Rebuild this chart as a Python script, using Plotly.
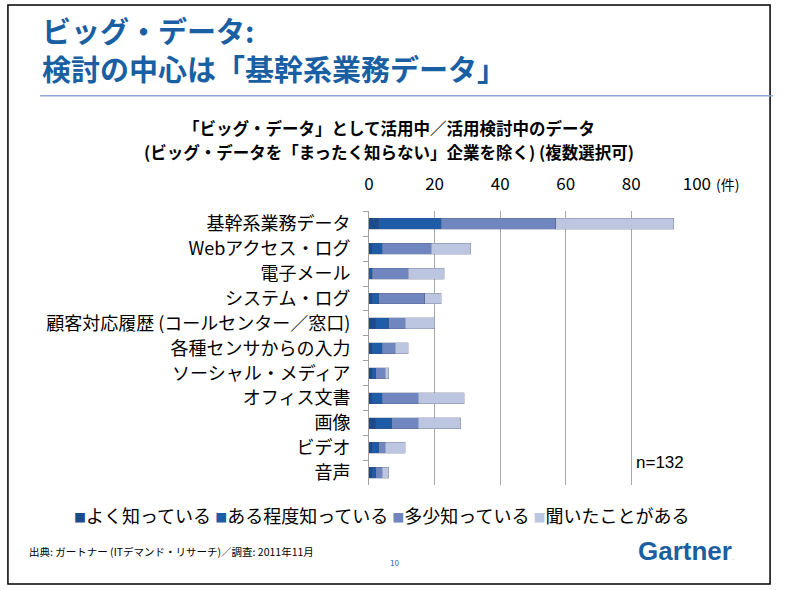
import plotly.graph_objects as go

# --- data (件) ---
categories = [
    "基幹系業務データ",
    "Webアクセス・ログ",
    "電子メール",
    "システム・ログ",
    "顧客対応履歴 (コールセンター／窓口)",
    "各種センサからの入力",
    "ソーシャル・メディア",
    "オフィス文書",
    "画像",
    "ビデオ",
    "音声",
]
series_names = ["よく知っている", "ある程度知っている", "多少知っている", "聞いたことがある"]
well_known = [3, 1, 0, 1, 2, 1, 1, 1, 2, 1, 1]
fairly_known = [19, 3, 1, 2, 4, 3, 1, 3, 5, 2, 1]
somewhat_known = [35, 15, 11, 14, 5, 4, 3, 11, 8, 2, 2]
heard_of = [36, 12, 11, 5, 9, 4, 1, 14, 13, 6, 2]
x_ticks = [0, 20, 40, 60, 80, 100]

colors = ["#1C4A8A", "#1F5CA8", "#6F86BE", "#BCC6E0"]
W, H = 787, 590
FONT = "Noto Sans CJK JP"
BLUE = "#1B5FA3"

fig = go.Figure()
for name, vals, col in zip(series_names,
                           [well_known, fairly_known, somewhat_known, heard_of],
                           colors):
    fig.add_trace(go.Bar(
        y=categories, x=vals, name=name, orientation="h",
        marker=dict(color=col, line=dict(color="rgba(70,80,110,0.45)", width=0.6)),
        width=0.44, showlegend=False,
    ))

def px_x(p):
    return p / W

def px_y(p):
    return 1 - p / H

fig.update_layout(
    width=W, height=H,
    barmode="stack",
    paper_bgcolor="white", plot_bgcolor="white",
    margin=dict(l=0, r=0, t=0, b=0),
    font=dict(family=FONT, color="black"),
    xaxis=dict(
        domain=[px_x(373), px_x(709)], range=[0, 100], side="top",
        tickvals=x_ticks, showgrid=True, gridcolor="#A8A8A8", gridwidth=1,
        zeroline=False, showline=False, ticks="",
        tickfont=dict(size=17, family=FONT), ticklabelstandoff=17,
        fixedrange=True,
    ),
    yaxis=dict(
        domain=[px_y(485), px_y(210)], range=[10.5, -0.5],
        showline=True, linecolor="#A0A0A0", linewidth=1,
        ticks="outside", tickson="boundaries", ticklen=5, tickcolor="#A0A0A0",
        tickfont=dict(size=18, family=FONT), ticklabelstandoff=14,
        showgrid=False, fixedrange=True,
    ),
)

# legend as one line of coloured squares, built from the series names
legend_text = " ".join(
    f"<span style='color:{c};font-size:12px'>■</span>{n}" for n, c in zip(series_names, colors)
)

ann = [
    dict(text="<b>ビッグ・データ:</b>", x=px_x(36), y=px_y(28), font=dict(size=29, color=BLUE)),
    dict(text="<b>検討の中心は「基幹系業務データ」</b>", x=px_x(36), y=px_y(66), font=dict(size=29, color=BLUE)),
    dict(text="<b>「ビッグ・データ」として活用中／活用検討中のデータ</b>",
         x=px_x(393), y=px_y(126), xanchor="center", font=dict(size=16.5)),
    dict(text="<b>(ビッグ・データを「まったく知らない」企業を除く) (複数選択可)</b>",
         x=px_x(393), y=px_y(151), xanchor="center", font=dict(size=16.5)),
    dict(text="(件)", x=px_x(727), y=px_y(183), font=dict(size=14)),
    dict(text="n=132", x=px_x(645), y=px_y(462), font=dict(size=17, family="Liberation Sans")),
    dict(text=legend_text, x=px_x(386), y=px_y(515), xanchor="center", font=dict(size=18)),
    dict(text="出典: ガートナー (ITデマンド・リサーチ)／調査: 2011年11月", x=px_x(23), y=px_y(551),
         font=dict(size=10.5)),
    dict(text="10", x=px_x(399), y=px_y(562), xanchor="center", font=dict(size=8, color=BLUE)),
    dict(text="<b>Gartner</b><span style='font-size:6px'>.</span>", x=px_x(647), y=px_y(551),
         font=dict(size=26, color=BLUE, family="Liberation Sans")),
]
for a in ann:
    a.setdefault("xanchor", "left")
    fig.add_annotation(xref="paper", yref="paper", showarrow=False, yanchor="middle", **a)

# slide frame and rule under the title
fig.add_shape(type="rect", xref="paper", yref="paper",
              x0=px_x(3), x1=px_x(784), y0=px_y(584), y1=px_y(3),
              line=dict(color="black", width=1.5))
fig.add_shape(type="line", xref="paper", yref="paper",
              x0=px_x(36), x1=1, y0=px_y(94), y1=px_y(94),
              line=dict(color="#8EA6D6", width=1.5))

fig.write_html(
    "out.html",
    config={"displayModeBar": False},
    post_script="document.body.style.margin='0';document.body.style.overflow='hidden';",
)
